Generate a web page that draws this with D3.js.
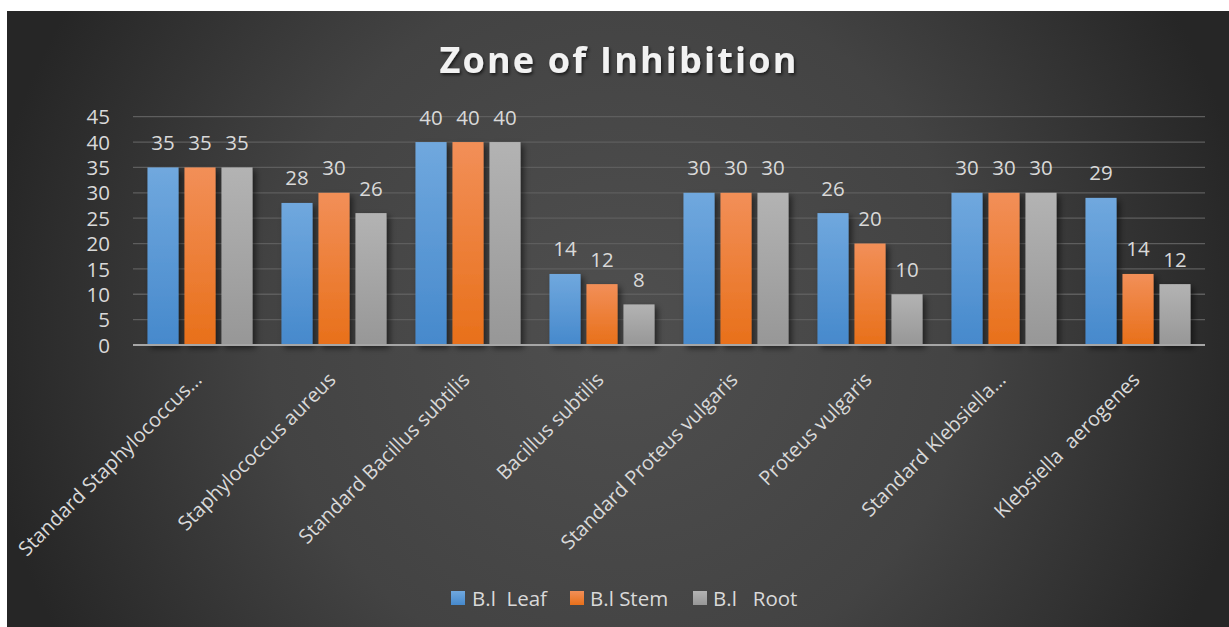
<!DOCTYPE html>
<html>
<head>
<meta charset="utf-8">
<script src="https://cdn.jsdelivr.net/npm/d3@7"></script>
<style>
  html, body { margin: 0; padding: 0; background: #ffffff; }
  svg { display: block; font-family: "Open Sans", "Noto Sans", sans-serif; }
  text { white-space: pre; }
</style>
</head>
<body>
<svg id="chart" width="1229" height="627"></svg>
<script>
// Zone of inhibition (mm) per extract and test organism
const categories = [
  "Standard Staphylococcus\u2026",
  "Staphylococcus aureus",
  "Standard Bacillus subtilis",
  "Bacillus subtilis",
  "Standard Proteus vulgaris",
  "Proteus vulgaris",
  "Standard Klebsiella\u2026",
  "Klebsiella  aerogenes"
];
const seriesNames = ["B.l  Leaf", "B.l Stem", "B.l   Root"];
const leafValues = [35, 28, 40, 14, 30, 26, 30, 29];
const stemValues = [35, 30, 40, 12, 30, 20, 30, 14];
const rootValues = [35, 26, 40, 8, 30, 10, 30, 12];
const yTicks = [0, 5, 10, 15, 20, 25, 30, 35, 40, 45];

const series = [
  { name: seriesNames[0], values: leafValues, top: "#70a8de", bottom: "#4689cc" },
  { name: seriesNames[1], values: stemValues, top: "#f28f58", bottom: "#e8701a" },
  { name: seriesNames[2], values: rootValues, top: "#b3b3b3", bottom: "#979797" }
];

const svg = d3.select("#chart");
const W = 1229, H = 627;
const defs = svg.append("defs");

// Background panel with a soft radial light in the middle
const bg = defs.append("radialGradient").attr("id", "bgGrad")
  .attr("gradientUnits", "userSpaceOnUse")
  .attr("cx", 620).attr("cy", 330).attr("r", 640);
bg.append("stop").attr("offset", "0%").attr("stop-color", "#4f4f4f");
bg.append("stop").attr("offset", "55%").attr("stop-color", "#434343");
bg.append("stop").attr("offset", "100%").attr("stop-color", "#262626");

series.forEach((s, i) => {
  const g = defs.append("linearGradient").attr("id", "barGrad" + i)
    .attr("x1", 0).attr("y1", 0).attr("x2", 0).attr("y2", 1);
  g.append("stop").attr("offset", "0%").attr("stop-color", s.top);
  g.append("stop").attr("offset", "100%").attr("stop-color", s.bottom);
});

const shadow = defs.append("filter").attr("id", "barShadow")
  .attr("x", "-30%").attr("y", "-10%").attr("width", "160%").attr("height", "130%");
shadow.append("feDropShadow").attr("dx", 3).attr("dy", 3).attr("stdDeviation", 3)
  .attr("flood-color", "#000").attr("flood-opacity", 0.55);

const titleShadow = defs.append("filter").attr("id", "titleShadow")
  .attr("x", "-10%").attr("y", "-30%").attr("width", "120%").attr("height", "160%");
titleShadow.append("feDropShadow").attr("dx", 1.5).attr("dy", 2).attr("stdDeviation", 1.5)
  .attr("flood-color", "#000").attr("flood-opacity", 0.6);

svg.append("rect").attr("x", 7).attr("y", 11).attr("width", W - 7).attr("height", H - 11)
  .attr("fill", "url(#bgGrad)");

// Scales
const plot = { left: 133, right: 1205, top: 116.7, bottom: 345 };
const x = d3.scaleBand().domain(categories)
  .range([plot.left, plot.right]).paddingInner(0.216).paddingOuter(0.108);
const xs = d3.scaleBand().domain(d3.range(series.length))
  .range([0, x.bandwidth()]).paddingInner(0.16).paddingOuter(0);
const y = d3.scaleLinear().domain([0, 45]).range([plot.bottom, plot.top]);

// Gridlines
svg.append("g").selectAll("line").data(yTicks.filter(t => t > 0)).join("line")
  .attr("x1", plot.left).attr("x2", plot.right)
  .attr("y1", d => y(d)).attr("y2", d => y(d))
  .attr("stroke", "#5e5e5e").attr("stroke-width", 1.3);

// Y axis labels
const yAxis = d3.axisLeft(y).tickValues(yTicks).tickSize(0).tickPadding(0);
const yg = svg.append("g").attr("transform", `translate(${plot.left - 23},0)`).call(yAxis);
yg.select(".domain").remove();
yg.selectAll("text").attr("fill", "#d9d9d9").attr("font-size", 20.5)
  .attr("font-family", "Open Sans, sans-serif").attr("dy", "0.35em");

// Bars
const groups = svg.append("g").selectAll("g").data(series).join("g")
  .attr("filter", "url(#barShadow)");
groups.each(function (s, i) {
  d3.select(this).selectAll("rect").data(s.values).join("rect")
    .attr("x", (d, j) => x(categories[j]) + xs(i))
    .attr("y", d => y(d))
    .attr("width", xs.bandwidth())
    .attr("height", d => y(0) - y(d))
    .attr("fill", `url(#barGrad${i})`);
});

// Value labels
series.forEach((s, i) => {
  svg.append("g").selectAll("text").data(s.values).join("text")
    .attr("x", (d, j) => x(categories[j]) + xs(i) + xs.bandwidth() / 2)
    .attr("y", d => y(d) - 17.5)
    .attr("text-anchor", "middle")
    .attr("fill", "#d9d9d9").attr("font-size", 20.5)
    .text(d => d);
});

// Baseline
svg.append("line").attr("x1", plot.left).attr("x2", plot.right)
  .attr("y1", y(0)).attr("y2", y(0))
  .attr("stroke", "#a6a6a6").attr("stroke-width", 2.2);

// Category labels, rotated
const xAxis = d3.axisBottom(x).tickSize(0).tickPadding(0);
const xg = svg.append("g").attr("transform", `translate(0,${y(0)})`).call(xAxis);
xg.select(".domain").remove();
xg.selectAll("text")
  .attr("fill", "#d9d9d9").attr("font-size", 20)
  .attr("font-family", "Open Sans, sans-serif")
  .attr("text-anchor", "end")
  .attr("y", 0).attr("dy", 0)
  .attr("transform", "translate(3,36) rotate(-45)");

// Title
svg.append("text").attr("x", 619).attr("y", 72.5).attr("text-anchor", "middle")
  .attr("fill", "#f2f2f2").attr("font-size", 36).attr("font-weight", 700)
  .attr("letter-spacing", 2.2).attr("filter", "url(#titleShadow)")
  .text("Zone of Inhibition");

// Legend
const legendItems = [
  { x: 451, tx: 472 },
  { x: 570, tx: 590 },
  { x: 693, tx: 713 }
];
const lg = svg.append("g");
series.forEach((s, i) => {
  lg.append("rect").attr("x", legendItems[i].x).attr("y", 591)
    .attr("width", 14).attr("height", 14).attr("fill", `url(#barGrad${i})`);
  lg.append("text").attr("x", legendItems[i].tx).attr("y", 605.5)
    .attr("fill", "#d9d9d9").attr("font-size", 20.5)
    .text(s.name);
});
</script>
</body>
</html>
